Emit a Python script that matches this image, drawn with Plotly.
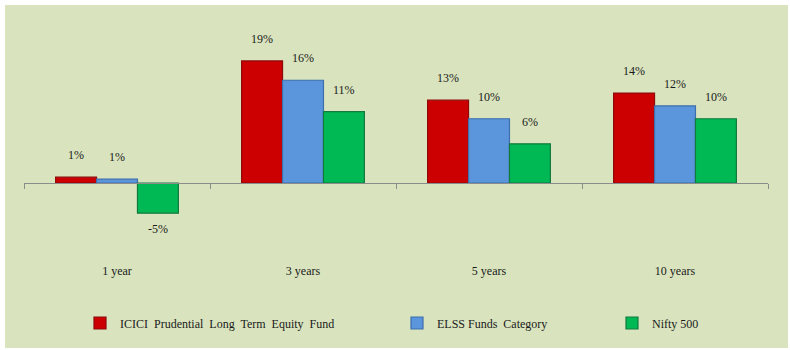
import plotly.graph_objects as go

# Annualised returns by holding period
periods = ["1 year", "3 years", "5 years", "10 years"]
icici_fund = [0.009, 0.190, 0.129, 0.140]
elss_category = [0.006, 0.160, 0.100, 0.120]
nifty_500 = [-0.047, 0.111, 0.061, 0.100]

series_names = [
    "ICICI  Prudential  Long  Term  Equity  Fund",
    "ELSS Funds  Category",
    "Nifty 500",
]
series_values = [icici_fund, elss_category, nifty_500]
fill_colors = ["#CC0000", "#5B96DC", "#00B955"]
edge_colors = ["#8E0A0A", "#3D6EAD", "#127A3E"]
legend_ids = ["legend", "legend2", "legend3"]

FONT = dict(family="Liberation Serif, DejaVu Serif, serif", size=12, color="#1A1A1A")
BG = "#D9E4BE"

# figure geometry (pixels)
W, H = 790, 350
ML, MR, MT, MB = 24, 22, 25, 88
PW, PH = W - ML - MR, H - MT - MB
Y_MIN, Y_MAX = -0.123, 0.246
BAR_PX = 41

fig = go.Figure()
for name, vals, fc, ec, lg in zip(series_names, series_values, fill_colors, edge_colors, legend_ids):
    fig.add_trace(go.Bar(
        x=periods, y=vals, name=name,
        marker=dict(color=fc, line=dict(color=ec, width=1.2)),
        legend=lg, hoverinfo="x+y",
    ))

# value labels above (or below) each bar
annotations = []
for i, vals in enumerate(series_values):
    for p, v in zip(periods, vals):
        annotations.append(dict(
            x=p, y=v, xref="x", yref="y",
            text=f"{round(v * 100):.0f}%",
            showarrow=False, xshift=(i - 1) * BAR_PX,
            yshift=22 if v >= 0 else -16,
            yanchor="middle", font=FONT,
        ))

# baseline axis with boundary ticks at zero
fig.add_trace(go.Scatter(x=periods, y=[None] * 4, xaxis="x2", showlegend=False,
                         hoverinfo="skip", mode="markers"))

def px_to_paper_x(px):
    return (px - ML) / PW

def px_to_paper_y(py):
    return (H - MB - py) / PH

legend_text_px = [120, 437, 652]
legends = {}
for lg, tx in zip(legend_ids, legend_text_px):
    legends[lg] = dict(
        x=px_to_paper_x(tx - 40), y=px_to_paper_y(323),
        xanchor="left", yanchor="middle", orientation="h",
        font=FONT, bgcolor="rgba(0,0,0,0)", borderwidth=0,
    )

fig.update_layout(
    width=W, height=H,
    margin=dict(l=ML, r=MR, t=MT, b=MB),
    paper_bgcolor="white", plot_bgcolor="rgba(0,0,0,0)",
    barmode="group", bargap=0.34, bargroupgap=0,
    font=FONT,
    annotations=annotations,
    shapes=[dict(
        type="rect", xref="paper", yref="paper", layer="below",
        x0=px_to_paper_x(5), x1=px_to_paper_x(788),
        y0=px_to_paper_y(348), y1=px_to_paper_y(5),
        fillcolor=BG, line=dict(width=0),
    )],
    xaxis=dict(
        type="category", categoryarray=periods, range=[-0.5, 3.5],
        showline=False, ticks="", showgrid=False, zeroline=False,
        tickfont=FONT, ticklabelstandoff=0,
    ),
    xaxis2=dict(
        type="category", categoryarray=periods, range=[-0.5, 3.5],
        overlaying="x", anchor="free", position=(0 - Y_MIN) / (Y_MAX - Y_MIN),
        showline=True, linecolor="#8C8C8C", linewidth=1.3,
        ticks="outside", tickson="boundaries", ticklen=5, tickcolor="#8C8C8C",
        showticklabels=False, showgrid=False, zeroline=False,
    ),
    yaxis=dict(range=[Y_MIN, Y_MAX], visible=False, showgrid=False, zeroline=False),
    showlegend=True,
    **legends,
)

fig.write_html("out.html")
